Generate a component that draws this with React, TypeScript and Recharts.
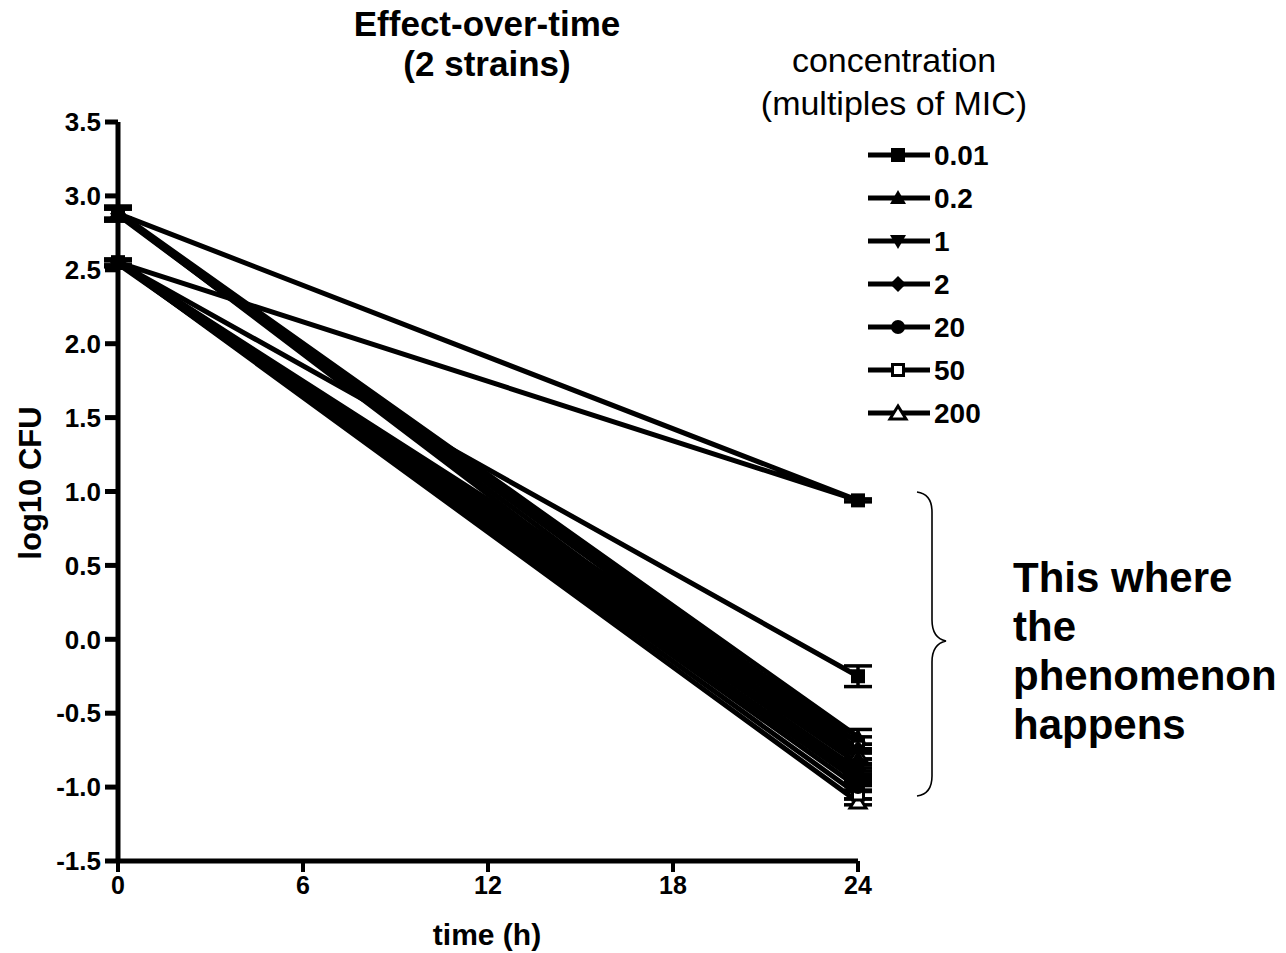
import { CartesianGrid, ErrorBar, Line, LineChart, XAxis, YAxis } from "recharts";

// each series goes strain 1 (t0 -> t24) then strain 2 (t0 -> t24), joined in row order
const TIMES = [0, 24, 0, 24];
const CONCENTRATIONS = ["0.01", "0.2", "1", "2", "20", "50", "200"];
const MARKERS = ["square", "triUp", "triDown", "diamond", "circle", "openSquare", "openTri"];
const LOG_CFU = [
  [2.88, 0.94, 2.55, -0.25],
  [2.89, -0.66, 2.55, -0.8],
  [2.88, -0.92, 2.54, -0.96],
  [2.88, -0.74, 2.55, -0.88],
  [2.87, -0.84, 2.55, -1.0],
  [2.88, -0.7, 2.55, -1.05],
  [2.88, -0.78, 2.55, -1.1],
];
const SEM = [
  [0.05, 0.01, 0.02, 0.07],
  [0.04, 0.05, 0.02, 0.04],
  [0.04, 0.03, 0.02, 0.03],
  [0.04, 0.03, 0.02, 0.03],
  [0.04, 0.03, 0.02, 0.03],
  [0.04, 0.04, 0.02, 0.03],
  [0.04, 0.03, 0.02, 0.02],
];
const X_TICKS = [0, 6, 12, 18, 24];
const Y_TICKS = [-1.5, -1.0, -0.5, 0.0, 0.5, 1.0, 1.5, 2.0, 2.5, 3.0, 3.5];

const FONT = "'Liberation Sans', Arial, sans-serif";

function Marker({ cx, cy, kind, scale = 1 }: { cx: number; cy: number; kind: string; scale?: number }) {
  const s = 7 * scale;
  switch (kind) {
    case "square":
      return <rect x={cx - s} y={cy - s} width={2 * s} height={2 * s} fill="#000" />;
    case "triUp":
      return <polygon points={`${cx},${cy - s - 1} ${cx + s + 1},${cy + s - 1} ${cx - s - 1},${cy + s - 1}`} fill="#000" />;
    case "triDown":
      return <polygon points={`${cx},${cy + s + 1} ${cx + s + 1},${cy - s + 1} ${cx - s - 1},${cy - s + 1}`} fill="#000" />;
    case "diamond":
      return <polygon points={`${cx},${cy - s - 1} ${cx + s + 1},${cy} ${cx},${cy + s + 1} ${cx - s - 1},${cy}`} fill="#000" />;
    case "circle":
      return <circle cx={cx} cy={cy} r={s} fill="#000" />;
    case "openSquare":
      return <rect x={cx - s + 1.5} y={cy - s + 1.5} width={2 * s - 3} height={2 * s - 3} fill="#fff" stroke="#000" strokeWidth={3} />;
    default:
      return (
        <polygon
          points={`${cx},${cy - s} ${cx + s + 1},${cy + s - 1} ${cx - s - 1},${cy + s - 1}`}
          fill="#fff"
          stroke="#000"
          strokeWidth={3}
        />
      );
  }
}

function makeDot(kind: string) {
  return (props: { cx?: number; cy?: number; index?: number }) => {
    if (typeof props.cx !== "number" || typeof props.cy !== "number") return <g key={props.index} />;
    return <Marker key={props.index} cx={props.cx} cy={props.cy} kind={kind} />;
  };
}

// draw 0.01 last so its squares sit on top, as in the original
const DRAW_ORDER = CONCENTRATIONS.map((_, i) => CONCENTRATIONS.length - 1 - i);

export default function App() {
  return (
    <div style={{ position: "absolute", left: 0, top: 0, width: 1286, height: 953, background: "#fff" }}>
      <LineChart width={1286} height={953} margin={{ top: 122, right: 428, bottom: 12, left: 8 }}>
        <CartesianGrid stroke="none" />
        <XAxis
          dataKey="time"
          type="number"
          domain={[0, 24]}
          ticks={X_TICKS}
          height={80}
          axisLine={{ stroke: "#000", strokeWidth: 5 }}
          tickLine={{ stroke: "#000", strokeWidth: 4 }}
          tickSize={11}
          tickMargin={4}
          tick={{ fill: "#000", fontSize: 25, fontWeight: 700, fontFamily: FONT }}
        />
        <YAxis
          type="number"
          domain={[-1.5, 3.5]}
          ticks={Y_TICKS}
          width={110}
          axisLine={{ stroke: "#000", strokeWidth: 5 }}
          tickLine={{ stroke: "#000", strokeWidth: 5 }}
          tickSize={13}
          tickMargin={4}
          tickFormatter={(v: number) => v.toFixed(1)}
          tick={{ fill: "#000", fontSize: 26, fontWeight: 700, fontFamily: FONT }}
        />
        {DRAW_ORDER.map((s) => (
          <Line
            key={CONCENTRATIONS[s]}
            name={CONCENTRATIONS[s]}
            data={TIMES.map((t, i) => ({ time: t, cfu: LOG_CFU[s][i], sem: SEM[s][i] }))}
            dataKey="cfu"
            type="linear"
            stroke="#000"
            strokeWidth={5}
            dot={makeDot(MARKERS[s])}
            activeDot={false}
            isAnimationActive={false}
          >
            <ErrorBar dataKey="sem" direction="y" width={14} stroke="#000" strokeWidth={3.5} />
          </Line>
        ))}
      </LineChart>
      <svg
        width={1286}
        height={953}
        style={{ position: "absolute", left: 0, top: 0, pointerEvents: "none" }}
        fontFamily={FONT}
      >
        <text x={487} y={36} textAnchor="middle" fontSize={35} fontWeight={700}>
          Effect-over-time
        </text>
        <text x={487} y={76} textAnchor="middle" fontSize={35} fontWeight={700}>
          (2 strains)
        </text>
        <text x={894} y={72} textAnchor="middle" fontSize={34}>
          concentration
        </text>
        <text x={894} y={115} textAnchor="middle" fontSize={34}>
          (multiples of MIC)
        </text>
        {CONCENTRATIONS.map((conc, s) => {
          const y = 155 + s * 43;
          return (
            <g key={conc}>
              <line x1={868} x2={930} y1={y} y2={y} stroke="#000" strokeWidth={5} />
              <Marker cx={898} cy={y} kind={MARKERS[s]} scale={1} />
              <text x={934} y={y} dominantBaseline="central" fontSize={28} fontWeight={700}>
                {conc}
              </text>
            </g>
          );
        })}
        <text transform="translate(30,483) rotate(-90)" textAnchor="middle" dominantBaseline="central" fontSize={31} fontWeight={700}>
          log10 CFU
        </text>
        <text x={487} y={945} textAnchor="middle" fontSize={30} fontWeight={700}>
          time (h)
        </text>
        <path
          d="M917,492 Q932,494 932,512 L932,620 Q932,638 946,641 Q932,644 932,662 L932,776 Q932,794 917,796"
          fill="none"
          stroke="#000"
          strokeWidth={1.6}
        />
        {["This where", "the", "phenomenon", "happens"].map((line, i) => (
          <text key={line} x={1013} y={592 + i * 49} fontSize={42} fontWeight={700}>
            {line}
          </text>
        ))}
      </svg>
    </div>
  );
}
